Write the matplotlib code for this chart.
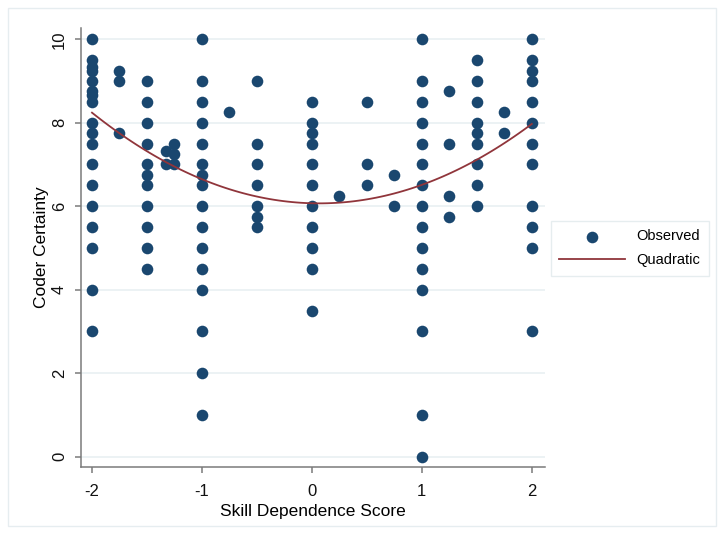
import numpy as np
import matplotlib
matplotlib.use("Agg")
import matplotlib.pyplot as plt
from matplotlib.patches import Rectangle

plt.rcParams['font.family'] = ['Liberation Sans', 'DejaVu Sans']
plt.rcParams['axes.unicode_minus'] = False

# skill dependence score and the coder certainty values observed at each score
scores = [-2, -1.75, -1.5, -1.33, -1.25, -1, -0.75, -0.5, 0, 0.25, 0.5, 0.75,
          1, 1.25, 1.5, 1.75, 2]
certainty = [
    [10, 9.5, 9.33, 9.25, 9, 8.75, 8.67, 8.5, 8, 7.75, 7.5, 7, 6.5, 6, 5.5, 5, 4, 3],
    [9.25, 9, 7.75],
    [9, 8.5, 8, 7.5, 7, 6.75, 6.5, 6, 5.5, 5, 4.5],
    [7.33, 7],
    [7.5, 7.25, 7],
    [10, 9, 8.5, 8, 7.5, 7, 6.75, 6.5, 6, 5.5, 5, 4.5, 4, 3, 2, 1],
    [8.25],
    [9, 7.5, 7, 6.5, 6, 5.75, 5.5],
    [8.5, 8, 7.75, 7.5, 7, 6.5, 6, 5.5, 5, 4.5, 3.5],
    [6.25],
    [8.5, 7, 6.5],
    [6.75, 6],
    [10, 9, 8.5, 8, 7.5, 7, 6.5, 6, 5.5, 5, 4.5, 4, 3, 1, 0],
    [8.75, 7.5, 6.25, 5.75],
    [9.5, 9, 8.5, 8, 7.75, 7.5, 7, 6.5, 6],
    [8.25, 7.75],
    [10, 9.5, 9.25, 9, 8.5, 8, 7.5, 7, 6, 5.5, 5, 3],
]

# quadratic fit of certainty on score: x^2, x, constant
qfit_coef = [0.509, -0.0675, 6.07]

x_obs = np.concatenate([[s] * len(c) for s, c in zip(scores, certainty)])
y_obs = np.concatenate(certainty)

navy = '#1a476f'
maroon = '#90353b'
grid_c = '#eaf1f3'
axis_c = '#7a7a7a'

fig = plt.figure(figsize=(7.24, 5.34), dpi=100)
fig.patches.append(Rectangle((8 / 724, 8 / 534), 708 / 724, 518 / 534,
                             transform=fig.transFigure, fill=False,
                             edgecolor='#e6edf0', linewidth=1))

ax = fig.add_axes([81 / 724, 67 / 534, 464 / 724, 439 / 534])

ax.scatter(x_obs, y_obs, s=70, color=navy, linewidths=0, zorder=3,
           label='Observed')
xf = np.linspace(-2, 2, 100)
ax.plot(xf, np.polyval(qfit_coef, xf), color=maroon, lw=1.3, zorder=4,
        label='Quadratic')

ax.set_xlim(-2.1, 2.12)
ax.set_ylim(-0.25, 10.27)
ax.set_xticks([-2, -1, 0, 1, 2])
ax.set_yticks([0, 2, 4, 6, 8, 10])
ax.yaxis.grid(True, color=grid_c, lw=1.3)
ax.set_axisbelow(True)

for side in ['top', 'right']:
    ax.spines[side].set_visible(False)
for side in ['left', 'bottom']:
    ax.spines[side].set_color(axis_c)
    ax.spines[side].set_linewidth(1.1)

ax.tick_params(axis='both', colors=axis_c, length=4, width=1.1,
               labelcolor='#111111', labelsize=12)
ax.tick_params(axis='y', labelrotation=90, pad=6)
ax.tick_params(axis='x', pad=8)
for lab in ax.get_yticklabels():
    lab.set_va('center')

ax.set_xlabel('Skill Dependence Score', fontsize=12.5, labelpad=4)
ax.set_ylabel('Coder Certainty', fontsize=12.5, labelpad=2)

leg = ax.legend(loc='upper left', bbox_to_anchor=(550.7 / 724, 1 - 220.7 / 534),
                bbox_transform=fig.transFigure, frameon=True, fancybox=False,
                fontsize=10.5, handlelength=4.5, handletextpad=0.75,
                borderpad=0.6, labelspacing=0.65, borderaxespad=0,
                markerscale=1.0)
leg.get_frame().set_edgecolor('#e0e9ec')
leg.get_frame().set_linewidth(1)

fig.savefig('out.png', dpi=100)
